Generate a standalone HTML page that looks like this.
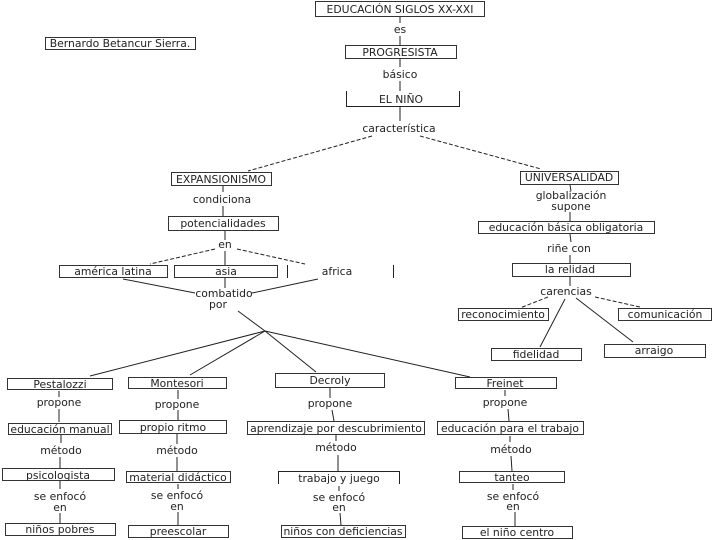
<!DOCTYPE html>
<html><head><meta charset="utf-8"><style>
html,body{margin:0;padding:0;background:#fff}
svg{display:block}
text{font-family:"DejaVu Sans","Liberation Sans",sans-serif;font-size:10.8px;fill:#222;text-anchor:middle}
.b{fill:#fff;stroke:#333;stroke-width:1}
.l{stroke:#222;stroke-width:1;fill:none}
.d{stroke:#222;stroke-width:1;fill:none;stroke-dasharray:4,2}
</style></head><body>
<svg width="720" height="540" viewBox="0 0 720 540" xmlns="http://www.w3.org/2000/svg">
<rect class="b" x="315.5" y="1.5" width="169" height="15"/><text x="400" y="13">EDUCACIÓN SIGLOS XX-XXI</text>
<line class="l" x1="400" y1="17" x2="400" y2="23"/><text x="400" y="33">es</text><line class="l" x1="400" y1="36" x2="400" y2="46"/>
<rect class="b" x="345.5" y="45.5" width="111" height="13"/><text x="400" y="56">PROGRESISTA</text>
<line class="l" x1="400" y1="59" x2="400" y2="67"/><text x="400" y="78">básico</text><line class="l" x1="400" y1="81" x2="400" y2="91"/>
<path class="l" d="M346.5 91 V106.5 H459.5 V91"/><text x="401" y="103">EL NIÑO</text>
<line class="l" x1="400" y1="107" x2="400" y2="121"/><text x="399" y="132">característica</text>
<rect class="b" x="45.5" y="37.5" width="150" height="12"/><text x="120" y="47">Bernardo Betancur Sierra.</text>
<line class="d" x1="372" y1="136" x2="248" y2="171"/><line class="d" x1="420" y1="136" x2="541" y2="169"/>
<rect class="b" x="171.5" y="172.5" width="100" height="13"/><text x="221" y="183">EXPANSIONISMO</text>
<line class="l" x1="223" y1="186" x2="223" y2="192"/><text x="222" y="203">condiciona</text><line class="l" x1="223" y1="206" x2="223" y2="216"/>
<rect class="b" x="168.5" y="216.5" width="110" height="14"/><text x="223" y="227">potencialidades</text>
<line class="l" x1="225" y1="231" x2="225" y2="240"/><text x="225" y="248">en</text>
<line class="d" x1="215" y1="249" x2="150" y2="264"/><line class="d" x1="237" y1="249" x2="305" y2="264"/>
<line class="l" x1="225" y1="251" x2="225" y2="265"/>
<rect class="b" x="59.5" y="265.5" width="108" height="12"/><text x="113" y="275">américa latina</text>
<rect class="b" x="174.5" y="265.5" width="103" height="12"/><text x="226" y="275">asia</text>
<line class="l" x1="287.5" y1="265" x2="287.5" y2="278"/><line class="l" x1="393.5" y1="265" x2="393.5" y2="278"/><text x="337" y="275">africa</text>
<line class="l" x1="225" y1="278" x2="225" y2="288"/>
<line class="l" x1="123" y1="279" x2="195" y2="293"/><line class="l" x1="318" y1="279" x2="252" y2="293"/>
<text x="224" y="297">combatido</text><text x="218" y="308">por</text>
<line class="l" x1="238" y1="311" x2="265" y2="331" stroke-width="1.5"/>
<line class="l" x1="265" y1="331" x2="90" y2="376"/><line class="l" x1="265" y1="331" x2="190" y2="375"/>
<line class="l" x1="265" y1="331" x2="316" y2="372"/><line class="l" x1="265" y1="331" x2="470" y2="377"/>
<rect class="b" x="7.5" y="378.5" width="105" height="11"/><text x="60" y="388">Pestalozzi</text>
<text x="59" y="406">propone</text><line class="l" x1="59" y1="391" x2="59" y2="397"/><line class="l" x1="59" y1="409" x2="59" y2="422"/>
<rect class="b" x="8.5" y="423.5" width="103" height="11"/><text x="60" y="433">educación manual</text>
<line class="l" x1="61" y1="435" x2="61" y2="443"/><text x="61" y="454">método</text><line class="l" x1="60" y1="457" x2="60" y2="468"/>
<rect class="b" x="2.5" y="468.5" width="112" height="12"/><text x="58" y="479">psicologista</text>
<line class="l" x1="60" y1="481" x2="60" y2="489"/><text x="60" y="500">se enfocó</text><text x="60" y="511">en</text><line class="l" x1="60" y1="513" x2="60" y2="523"/>
<rect class="b" x="5.5" y="523.5" width="110" height="12"/><text x="60" y="533">niños pobres</text>
<rect class="b" x="128.5" y="377.5" width="98" height="11"/><text x="177" y="387">Montesori</text>
<line class="l" x1="178" y1="390" x2="178" y2="399"/><text x="177" y="408">propone</text><line class="l" x1="178" y1="410" x2="178" y2="420"/>
<rect class="b" x="119.5" y="420.5" width="107" height="13"/><text x="173" y="431">propio ritmo</text>
<line class="l" x1="177" y1="434" x2="177" y2="444"/><text x="177" y="454">método</text><line class="l" x1="177" y1="457" x2="177" y2="471"/>
<rect class="b" x="126.5" y="471.5" width="104" height="11"/><text x="178" y="481">material didáctico</text>
<line class="l" x1="178" y1="484" x2="178" y2="489"/><text x="177" y="499">se enfocó</text><text x="177" y="510">en</text><line class="l" x1="178" y1="512" x2="178" y2="525"/>
<rect class="b" x="128.5" y="525.5" width="100" height="12"/><text x="178" y="535">preescolar</text>
<rect class="b" x="275.5" y="373.5" width="109" height="14"/><text x="330" y="384">Decroly</text>
<line class="l" x1="330" y1="388" x2="330" y2="398"/><text x="330" y="407">propone</text><line class="l" x1="332" y1="410" x2="334" y2="421"/>
<rect class="b" x="247.5" y="421.5" width="177" height="13"/><text x="336" y="432">aprendizaje por descubrimiento</text>
<line class="l" x1="336" y1="435" x2="336" y2="441"/><text x="336" y="451">método</text><line class="l" x1="338" y1="455" x2="338" y2="471"/>
<path class="l" d="M278.5 484 V471.5 H399.5 V484"/><text x="339" y="482">trabajo y juego</text>
<line class="l" x1="339" y1="486" x2="339" y2="491"/><text x="339" y="501">se enfocó</text><text x="339" y="511">en</text><line class="l" x1="340" y1="513" x2="341" y2="525"/>
<rect class="b" x="281.5" y="525.5" width="124" height="12"/><text x="343" y="535">niños con deficiencias</text>
<rect class="b" x="455.5" y="377.5" width="101" height="11"/><text x="505" y="387">Freinet</text>
<line class="l" x1="505" y1="390" x2="505" y2="396"/><text x="505" y="406">propone</text><line class="l" x1="508" y1="409" x2="509" y2="421"/>
<rect class="b" x="437.5" y="421.5" width="146" height="13"/><text x="510" y="432">educación para el trabajo</text>
<line class="l" x1="510" y1="436" x2="510" y2="442"/><text x="511" y="453">método</text><line class="l" x1="511" y1="456" x2="512" y2="471"/>
<rect class="b" x="459.5" y="471.5" width="105" height="11"/><text x="512" y="481">tanteo</text>
<line class="l" x1="513" y1="484" x2="513" y2="490"/><text x="513" y="500">se enfocó</text><text x="513" y="510">en</text><line class="l" x1="515" y1="512" x2="515" y2="526"/>
<rect class="b" x="462.5" y="526.5" width="110" height="12"/><text x="517" y="536">el niño centro</text>
<rect class="b" x="520.5" y="171.5" width="98" height="13"/><text x="569" y="181">UNIVERSALIDAD</text>
<line class="l" x1="570" y1="185" x2="571" y2="191"/><text x="571" y="199">globalización</text><text x="571" y="210">supone</text><line class="l" x1="570" y1="212" x2="570" y2="221"/>
<rect class="b" x="478.5" y="221.5" width="176" height="12"/><text x="566" y="231">educación básica obligatoria</text>
<line class="l" x1="570" y1="234" x2="571" y2="242"/><text x="569" y="252">riñe con</text><line class="l" x1="570" y1="255" x2="570" y2="263"/>
<rect class="b" x="512.5" y="263.5" width="118" height="13"/><text x="570" y="273">la relidad</text>
<line class="l" x1="570" y1="277" x2="570" y2="286"/><text x="566" y="295">carencias</text>
<line class="d" x1="548" y1="297" x2="520" y2="308"/><line class="d" x1="595" y1="297" x2="640" y2="307"/>
<line class="l" x1="565" y1="299" x2="540" y2="347"/><line class="l" x1="576" y1="298" x2="633" y2="342"/>
<rect class="b" x="458.5" y="308.5" width="90" height="12"/><text x="503" y="318">reconocimiento</text>
<rect class="b" x="618.5" y="308.5" width="93" height="12"/><text x="665" y="318">comunicación</text>
<rect class="b" x="491.5" y="348.5" width="90" height="12"/><text x="536" y="358">fidelidad</text>
<rect class="b" x="604.5" y="344.5" width="101" height="13"/><text x="654" y="354">arraigo</text>
</svg>
</body></html>
